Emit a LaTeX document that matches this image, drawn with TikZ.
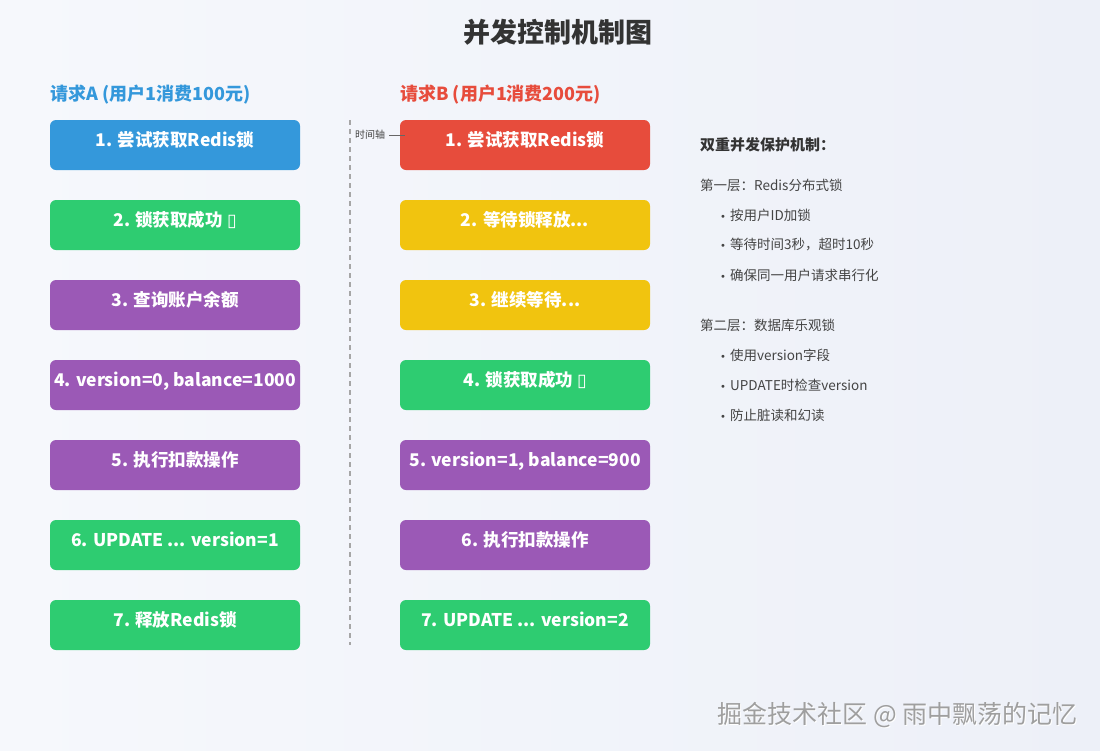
\documentclass[tikz,border=0pt]{standalone}
\usepackage{fontspec}
\setmainfont{Noto Sans CJK SC}
\newfontfamily\symfont{DejaVu Sans}
\definecolor{cblue}{HTML}{3498DB}
\definecolor{cred}{HTML}{E74C3C}
\definecolor{cgreen}{HTML}{2ECC71}
\definecolor{cpurple}{HTML}{9B59B6}
\definecolor{cyellow}{HTML}{F1C40F}
\definecolor{ctext}{HTML}{333333}
\definecolor{cbody}{HTML}{444444}
\definecolor{bgA}{HTML}{F6F8FC}
\definecolor{bgB}{HTML}{EDF0F8}
\newcommand{\tofu}{{\symfont ▯}}
\newcommand{\bul}{{\symfont\fontsize{10}{12}\selectfont •}\hspace{4pt}}
\tikzset{
  stepbox/.style={rounded corners=6pt, minimum width=250pt, minimum height=50pt, inner sep=0pt,
    text=white, font=\bfseries\fontsize{17.5}{20}\selectfont, text depth=9pt, text height=12pt},
  header/.style={anchor=west, inner sep=0pt, font=\bfseries\fontsize{18}{22}\selectfont},
  bodytext/.style={anchor=west, inner sep=0pt, text=cbody, font=\fontsize{13.5}{16}\selectfont},
}
\begin{document}
\begin{tikzpicture}[x=1pt,y=-1pt]
\shade[left color=bgA, right color=bgB] (0,0) rectangle (1100,750);
\useasboundingbox (0,0) rectangle (1100,750);

\node[text=ctext, font=\bfseries\fontsize{27}{32}\selectfont] (title) at (558,32) {并发控制机制图};

\node[header, text=cblue] (hA) at (50,95) {请求A (用户1消费100元)};
\node[header, text=cred] (hB) at (400,95) {请求B (用户1消费200元)};

% time axis
\coordinate (ttop) at (350,120);
\coordinate (tbot) at (350,645);
\draw[gray!70, line width=2pt, dash pattern=on 5pt off 4pt] (ttop) -- (tbot);

% column A
\node[stepbox, fill=cblue]   (a1) at (175,145) {1. 尝试获取Redis锁};
\node[stepbox, fill=cgreen]  (a2) at (175,225) {2. 锁获取成功 \tofu};
\node[stepbox, fill=cpurple] (a3) at (175,305) {3. 查询账户余额};
\node[stepbox, fill=cpurple] (a4) at (175,385) {4. version=0, balance=1000};
\node[stepbox, fill=cpurple] (a5) at (175,465) {5. 执行扣款操作};
\node[stepbox, fill=cgreen]  (a6) at (175,545) {6. UPDATE ... version=1};
\node[stepbox, fill=cgreen]  (a7) at (175,625) {7. 释放Redis锁};

% column B
\node[stepbox, fill=cred]    (b1) at (525,145) {1. 尝试获取Redis锁};
\node[stepbox, fill=cyellow] (b2) at (525,225) {2. 等待锁释放...};
\node[stepbox, fill=cyellow] (b3) at (525,305) {3. 继续等待...};
\node[stepbox, fill=cgreen]  (b4) at (525,385) {4. 锁获取成功 \tofu};
\node[stepbox, fill=cpurple] (b5) at (525,465) {5. version=1, balance=900};
\node[stepbox, fill=cpurple] (b6) at (525,545) {6. 执行扣款操作};
\node[stepbox, fill=cgreen]  (b7) at (525,625) {7. UPDATE ... version=2};

\node[anchor=west, inner sep=0pt, text=cbody, font=\fontsize{10}{12}\selectfont] (tl) at (355,135) {时间轴};
\draw[gray!80!black, line width=0.7pt] ([xshift=4pt]tl.east) -- ([xshift=5pt]tl.east -| b1.west);

% right panel
\node[anchor=west, inner sep=0pt, text=ctext, font=\bfseries\fontsize{15}{18}\selectfont] (rt) at (700,145) {双重并发保护机制：};
\node[bodytext] (l1) at (700,185) {第一层：Redis分布式锁};
\node[bodytext] (l1a) at (720,215) {\bul 按用户ID加锁};
\node[bodytext] (l1b) at (720,245) {\bul 等待时间3秒，超时10秒};
\node[bodytext] (l1c) at (720,275) {\bul 确保同一用户请求串行化};
\node[bodytext] (l2) at (700,325) {第二层：数据库乐观锁};
\node[bodytext] (l2a) at (720,355) {\bul 使用version字段};
\node[bodytext] (l2b) at (720,385) {\bul UPDATE时检查version};
\node[bodytext] (l2c) at (720,415) {\bul 防止脏读和幻读};

% watermark
\node[anchor=east, inner sep=0pt, text=white, font=\fontsize{25}{28}\selectfont] (wms) at (1079,716) {掘金技术社区 @ 雨中飘荡的记忆};
\node[anchor=east, inner sep=0pt, text=gray!75, font=\fontsize{25}{28}\selectfont] (wm) at (1078,715) {掘金技术社区 @ 雨中飘荡的记忆};
\end{tikzpicture}
\end{document}
